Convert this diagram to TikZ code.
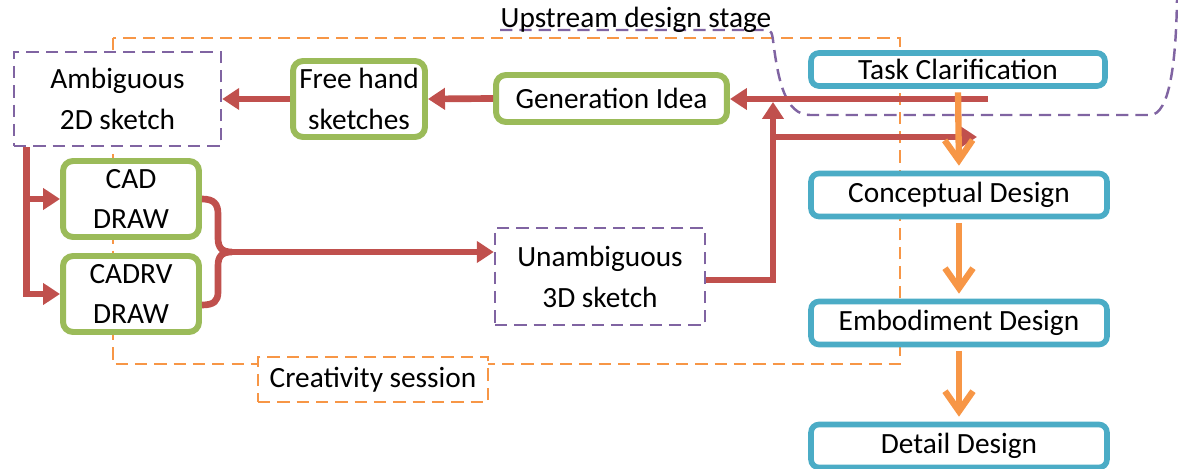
\documentclass[tikz,border=0pt]{standalone}
\usepackage{fontspec}
\setmainfont{Carlito}
\usetikzlibrary{arrows.meta}

\definecolor{flowred}{HTML}{C0504D}
\definecolor{boxgreen}{HTML}{9BBB59}
\definecolor{boxblue}{HTML}{4BACC6}
\definecolor{boxpurple}{HTML}{8064A2}
\definecolor{boxorange}{HTML}{F79646}

\begin{document}
\begin{tikzpicture}[x=0.02cm, y=-0.02cm,
	every node/.style={font=\fontsize{16.7}{23.3}\selectfont, align=center, inner sep=0pt},
	greenbox/.style={draw=boxgreen, line width=3.4pt, rounded corners=0.2cm, fill=white},
	bluebox/.style={draw=boxblue, line width=3.2pt, rounded corners=0.16cm, fill=white, minimum width=5.92cm, minimum height=0.86cm},
	purplebox/.style={draw=boxpurple, line width=1.4pt, dash pattern=on 7pt off 4pt, fill=white},
	purpleline/.style={draw=boxpurple, line width=1.4pt, dash pattern=on 7pt off 4pt},
	orangedash/.style={draw=boxorange, line width=1.4pt, dash pattern=on 7pt off 4pt},
	redflow/.style={draw=flowred, line width=3.8pt, -{Triangle[length=0.34cm, width=0.42cm]}},
	orangeflow/.style={draw=boxorange, line width=3.6pt, shorten <=2pt, shorten >=0.1cm, -{Straight Barb[length=0.4cm, width=0.56cm]}}]
	\useasboundingbox (0,0) rectangle (1178,469);

	% Rahmen
	\draw[orangedash] (113,38) rectangle (900,364);
	\draw[purpleline] (500,30) -- (766,30) .. controls (772,30) and (772,34) .. (773,40)
		.. controls (778,80) and (785,115) .. (810,115) -- (1150,115)
		.. controls (1170,115) and (1176,60) .. (1177,0);
	\node[anchor=base] (stage) at (636,28) {Upstream design stage};

	% Knoten
	\node[purplebox, minimum width=4.14cm, minimum height=1.88cm] (amb) at (117.5,99) {Ambiguous\\2D sketch};
	\node[greenbox, minimum width=2.64cm, minimum height=1.52cm] (free) at (359,99) {Free hand\\sketches};
	\node[greenbox, minimum width=4.62cm, minimum height=0.94cm] (gen) at (611.5,98.5) {Generation Idea};
	\node[greenbox, minimum width=2.72cm, minimum height=1.52cm] (cad) at (131,199) {CAD\\DRAW};
	\node[greenbox, minimum width=2.72cm, minimum height=1.52cm] (cadrv) at (131,294) {CADRV\\DRAW};
	\node[purplebox, minimum width=4.2cm, minimum height=1.94cm] (unamb) at (600,276.5) {Unambiguous\\3D sketch};
	\node[orangedash, fill=white, minimum width=4.6cm, minimum height=0.9cm] (creat) at (373,379.5) {Creativity session};
	\node[bluebox, minimum width=5.88cm, minimum height=0.66cm] (task) at (958,69.5) {Task Clarification};
	\node[bluebox] (concept) at (959,195) {Conceptual Design};
	\node[bluebox] (embod) at (959,323) {Embodiment Design};
	\node[bluebox] (detail) at (959,446) {Detail Design};

	% rote Pfeile
	\draw[redflow] (gen.west) -- (free.east);
	\draw[redflow] (free.west) -- (amb.east);
	\coordinate (fork) at ([xshift=0.28cm]amb.south west);
	\draw[redflow] (fork) |- (cad.west);
	\draw[redflow] (fork) |- (cadrv.west);

	\coordinate (brace tip) at (232,252);
	\draw[draw=flowred, line width=3.8pt] (cad.east) .. controls (214,199) and (218,204) .. (218,214) -- (218,238)
		.. controls (218,248) and (222,252) .. (brace tip)
		.. controls (222,252) and (218,256) .. (218,266) -- (218,292)
		.. controls (218,301) and (214,305) .. ([yshift=-0.22cm]cadrv.east);
	\draw[redflow] (brace tip) -- (brace tip -| unamb.west);

	\coordinate (riser top) at (773,102);
	\draw[redflow] ([yshift=-0.07cm]unamb.east) -| (riser top);
	\coordinate (riser mid) at (773,137);
	\coordinate (cd in) at (977,137);
	\draw[redflow] (riser mid) -- (cd in);
	\coordinate (tc out) at (988,99);
	\draw[redflow] (tc out) -- (tc out -| gen.east);

	% orange Pfeile
	\foreach \a/\b in {task/concept, concept/embod, embod/detail} {
		\draw[orangeflow] (\a.south) -- (\b.north);
	}
\end{tikzpicture}
\end{document}
